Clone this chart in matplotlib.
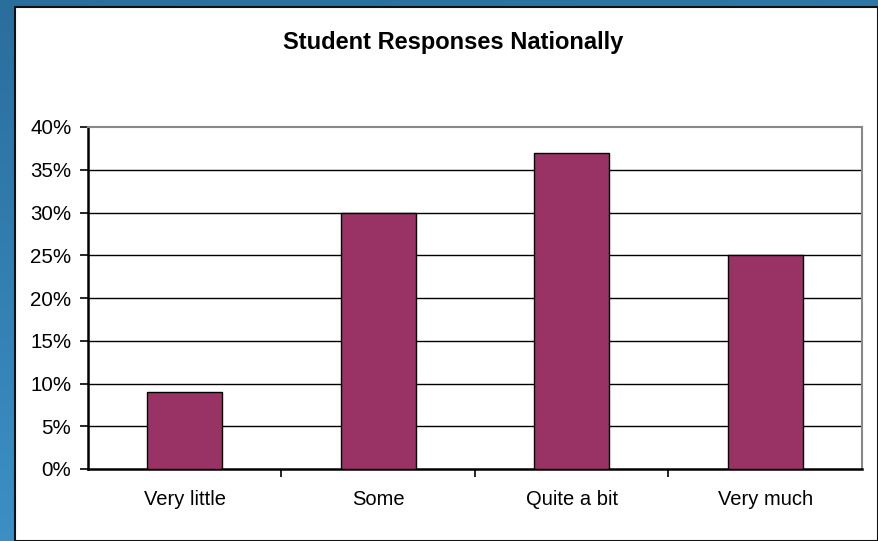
import matplotlib
matplotlib.use("Agg")
import matplotlib.pyplot as plt
import numpy as np
from matplotlib.patches import Rectangle

categories = ["Very little", "Some", "Quite a bit", "Very much"]
values = [9, 30, 37, 25]
yticks = [0, 5, 10, 15, 20, 25, 30, 35, 40]
title = "Student Responses Nationally"

plt.rcParams['font.family'] = ['Liberation Sans', 'DejaVu Sans']

W, H = 879, 541
fig = plt.figure(figsize=(W/100, H/100), dpi=100)

# blue gradient background
bg = fig.add_axes([0, 0, 1, 1], zorder=-10)
gy = np.linspace(0, 1, 200)[:, None]
gx = np.linspace(0, 1, 200)[None, :]
top = np.array([0x2a, 0x6e, 0x9c]) / 255
bot = np.array([0x40, 0x98, 0xd0]) / 255
t = np.clip(gy * 0.8 + gx * 0.2, 0, 1)
img = top[None, None, :] * (1 - t[..., None]) + bot[None, None, :] * t[..., None]
bg.imshow(img, aspect='auto', extent=[0, 1, 0, 1], origin='upper')
bg.set_axis_off()

# white chart box
fig.patches.append(Rectangle((15/W, 0), (878-15)/W, (H-7)/H, transform=fig.transFigure,
                             facecolor='white', edgecolor='#111111', linewidth=1.5, zorder=-5))

ax = fig.add_axes([88/W, 1-469/H, (862-88)/W, (469-127)/H])
x = np.arange(len(categories))
ax.bar(x, values, width=0.39, color='#993366', edgecolor='black', linewidth=1.0, zorder=3)
ax.set_xlim(-0.5, len(categories) - 0.5)
ax.set_ylim(0, 40)
ax.set_yticks(yticks)
ax.set_yticklabels([f"{v}%" for v in yticks], fontsize=14.8)
ax.set_xticks(x)
ax.set_xticklabels(categories, fontsize=14.5)
ax.tick_params(axis='x', length=0, pad=15)
ax.set_xticks(np.arange(0.5, len(categories) - 0.5, 1), minor=True)
ax.tick_params(axis='x', which='minor', length=6, width=1.2, direction='out')
ax.tick_params(axis='y', length=6, width=1.2, direction='out', pad=6)
for v in yticks[1:-1]:
    ax.axhline(v, color='black', linewidth=1.0, zorder=1)
ax.spines['left'].set_linewidth(1.8)
ax.spines['bottom'].set_linewidth(1.8)
ax.spines['top'].set_color('#888888')
ax.spines['right'].set_color('#888888')
ax.spines['top'].set_linewidth(1.5)
ax.spines['right'].set_linewidth(1.5)

fig.text((285+622)/2/W, 1-42/H, title, ha='center', va='center', fontsize=17, fontweight='bold')

fig.savefig("out.png", dpi=100)
